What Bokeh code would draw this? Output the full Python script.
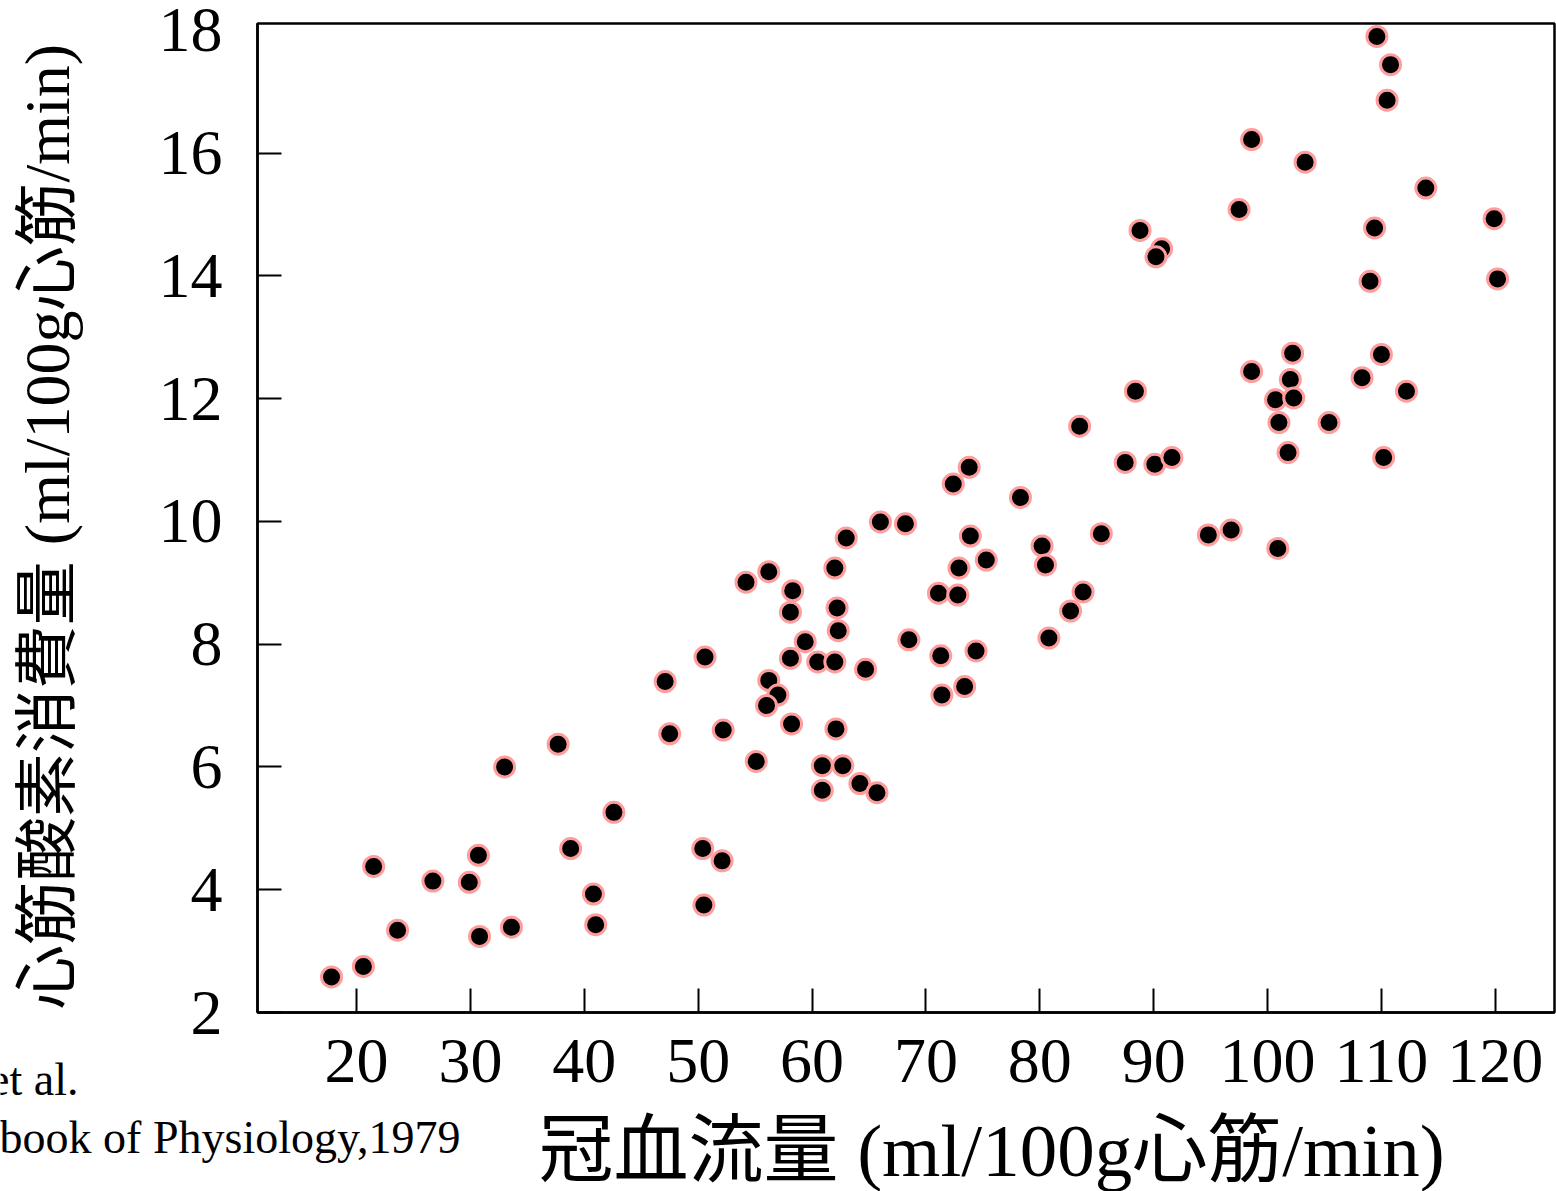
from bokeh.plotting import figure
from bokeh.models import (Range1d, FixedTicker, Label, ColumnDataSource,
                          BoxAnnotation, LinearAxis)
from bokeh.embed import file_html
from bokeh.resources import INLINE

# Coronary blood flow (ml/100g myocardium/min)
flow = [17.8, 20.6, 21.5, 23.6, 26.7, 29.9, 30.7, 30.8, 33.0, 33.6,
        37.7, 38.8, 42.6, 40.8, 41.0, 47.5, 52.2, 55.1, 50.4, 52.1,
        50.5, 54.2, 56.2, 58.3, 58.1, 62.0, 62.2, 62.3, 59.4, 58.1,
        60.5, 62.0, 64.7, 68.5, 50.6, 47.1, 56.2, 57.0, 56.0, 58.2,
        62.1, 60.9, 62.7, 60.9, 64.2, 65.7, 66.0, 63.0, 88.4, 83.5,
        87.5, 90.1, 91.6, 73.8, 72.4, 78.3, 68.2, 73.9, 75.3, 72.9,
        71.1, 72.8, 80.2, 80.5, 85.4, 83.8, 82.7, 80.8, 71.3, 74.4,
        73.4, 71.4, 109.6, 110.8, 110.5, 98.6, 103.3, 113.9, 97.5, 88.8,
        90.7, 90.2, 109.4, 119.9, 109.0, 120.2, 102.2, 110.0, 98.6, 102.0,
        108.3, 112.2, 100.7, 102.3, 101.0, 105.4, 101.8, 110.2, 94.8, 96.8,
        100.9]
# Myocardial oxygen consumption (ml/100g myocardium/min)
mvo2 = [2.58, 2.75, 4.38, 3.34, 4.14, 4.12, 4.56, 3.24, 6.00, 3.39,
        6.37, 4.67, 5.26, 3.93, 3.43, 6.54, 6.60, 6.09, 4.67, 4.47,
        3.75, 9.01, 9.18, 8.87, 8.52, 9.24, 8.59, 8.22, 8.04, 7.77,
        7.71, 7.71, 7.59, 8.07, 7.79, 7.39, 7.41, 7.17, 7.00, 6.70,
        6.62, 6.02, 6.02, 5.62, 5.73, 5.58, 9.99, 9.73, 12.12, 11.55,
        10.96, 10.93, 11.04, 10.88, 10.61, 10.39, 9.96, 9.76, 9.37, 9.24,
        8.83, 8.80, 9.60, 9.29, 9.80, 8.85, 8.54, 8.10, 7.81, 7.89,
        7.31, 7.17, 17.90, 17.44, 16.86, 16.22, 15.85, 15.43, 15.08, 14.74,
        14.44, 14.31, 14.78, 14.93, 13.91, 13.95, 12.74, 12.72, 12.44, 12.31,
        12.34, 12.12, 11.98, 12.01, 11.61, 11.61, 11.12, 11.04, 9.78, 9.86,
        9.56]

x_ticks = [20, 30, 40, 50, 60, 70, 80, 90, 100, 110, 120]
y_ticks = [2, 4, 6, 8, 10, 12, 14, 16]
y_top_tick = [18]

x_label = "冠血流量 (ml/100g心筋/min)"
y_label = "心筋酸素消費量 (ml/100g心筋/min)"
source_lines = ["et al.", "book of Physiology,1979"]

# visible plotting box (data units)
BOX_X0, BOX_X1 = 11.3, 125.2
BOX_Y0, BOX_Y1 = 2.0, 18.11

# canvas size and pixel layout of the box
W, H = 1556, 1191
BOX_PX_L, BOX_PX_R = 257, 1554
BOX_PX_T, BOX_PX_B = 23, 1012

xs = (BOX_X1 - BOX_X0) / (BOX_PX_R - BOX_PX_L)
ys = (BOX_Y1 - BOX_Y0) / (BOX_PX_B - BOX_PX_T)
XL = BOX_X0 - BOX_PX_L * xs
XR = BOX_X1 + (W - BOX_PX_R) * xs
YT = BOX_Y1 + BOX_PX_T * ys
YB = BOX_Y0 - (H - BOX_PX_B) * ys


def dx(px):
    return XL + px * xs


def dy(py):
    return YT - py * ys


p = figure(width=W, height=H,
           min_border_left=0, min_border_right=0,
           min_border_top=0, min_border_bottom=0,
           x_range=Range1d(XL, XR), y_range=Range1d(YB, YT),
           output_backend="svg", toolbar_location=None,
           background_fill_color="white", border_fill_color="white")

p.xgrid.visible = False
p.ygrid.visible = False
p.outline_line_color = None

serif = "'Liberation Serif'"


def style_axis(ax, ticks):
    ax.ticker = FixedTicker(ticks=ticks)
    ax.axis_line_color = "black"
    ax.axis_line_width = 2.5
    ax.major_tick_line_color = "black"
    ax.major_tick_line_width = 2
    ax.major_tick_in = 24
    ax.major_tick_out = 0
    ax.minor_tick_line_color = None
    ax.major_label_text_font = serif
    ax.major_label_text_font_size = "64px"
    ax.major_label_text_color = "black"


style_axis(p.xaxis[0], x_ticks)
style_axis(p.yaxis[0], y_ticks)
p.xaxis[0].fixed_location = BOX_Y0
p.xaxis[0].bounds = (BOX_X0, BOX_X1)
p.yaxis[0].fixed_location = BOX_X0
p.yaxis[0].bounds = (BOX_Y0, BOX_Y1)
p.xaxis[0].major_label_standoff = 27
p.yaxis[0].major_label_standoff = 35

# label "18" at the top edge (no tick mark drawn there)
top_axis = LinearAxis(fixed_location=BOX_X0, bounds=(BOX_Y0, BOX_Y1))
style_axis(top_axis, y_top_tick)
top_axis.axis_line_color = None
top_axis.major_tick_line_color = None
top_axis.major_label_standoff = 35
p.add_layout(top_axis, "left")

p.add_layout(BoxAnnotation(left=BOX_X0, right=BOX_X1, bottom=BOX_Y0, top=BOX_Y1,
                           fill_alpha=0, fill_color=None,
                           line_color="black", line_alpha=1.0, line_width=2.5))

src = ColumnDataSource(dict(x=flow, y=mvo2))
p.scatter("x", "y", source=src, size=20, fill_color="black",
          line_color="#ff9c9c", line_width=3)

mixed = "'Liberation Serif', 'Noto Sans CJK JP'"
p.add_layout(Label(x=dx(991), y=dy(1150), text=x_label,
                   text_font=mixed, text_font_size="75px",
                   text_align="center", text_baseline="alphabetic",
                   text_color="black"))
p.add_layout(Label(x=dx(47), y=dy(526), text=y_label, angle=1.5707963,
                   text_font=mixed, text_font_size="64px",
                   text_align="center", text_baseline="alphabetic",
                   text_color="black"))
p.add_layout(Label(x=dx(78), y=dy(1079), text=source_lines[0],
                   text_font=serif, text_font_size="46px",
                   text_align="right", text_baseline="alphabetic",
                   text_color="black"))
p.add_layout(Label(x=dx(460), y=dy(1137), text=source_lines[1],
                   text_font=serif, text_font_size="46px",
                   text_align="right", text_baseline="alphabetic",
                   text_color="black"))

open("out.html", "w").write(file_html(p, INLINE))
